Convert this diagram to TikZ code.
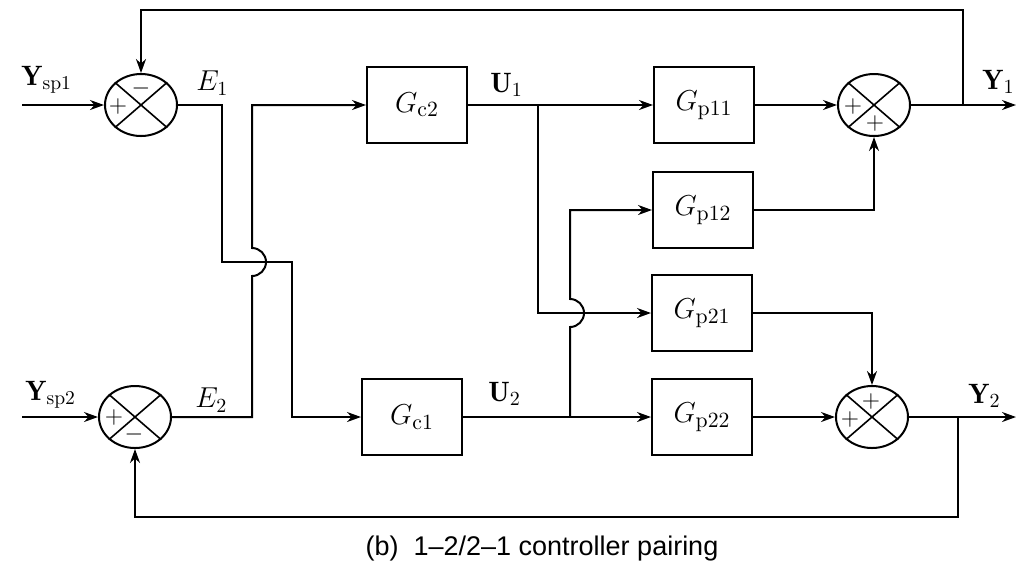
\documentclass[tikz,border=0pt]{standalone}
\usepackage{fontspec}
\newfontfamily\capfont{Liberation Sans}
\usetikzlibrary{shapes.geometric,arrows.meta}
\begin{document}
\begin{tikzpicture}[x=0.5pt,y=-0.5pt,
  line/.style={line width=1pt},
  arr/.style={line width=1pt,-{Stealth[length=7pt,width=5pt]}},
  blk/.style={draw,line width=1pt,minimum width=50pt,minimum height=38pt,inner sep=0pt,font=\fontsize{15.5}{17}\selectfont},
  sumj/.style={draw,ellipse,line width=1pt,minimum width=36pt,minimum height=31pt,inner sep=0pt},
  lbl/.style={font=\fontsize{14}{16}\selectfont,inner sep=0pt},
  sgn/.style={font=\fontsize{12}{14}\selectfont,inner sep=0pt}]
\useasboundingbox (0,0) rectangle (1018,570);
% summing junctions
\node[sumj] (s1) at (141,105) {};
\node[sumj] (s2) at (135,417) {};
\node[sumj] (s3) at (874,105) {};
\node[sumj] (s4) at (872,417) {};
\foreach \s in {s1,s2,s3,s4}{
  \draw[line width=0.8pt] (\s.north west) -- (\s.south east);
  \draw[line width=0.8pt] (\s.north east) -- (\s.south west);
}
\node[sgn] (m1) at (141,88) {$-$};
\node[sgn] (p1) at (118,106) {$+$};
\node[sgn] (p2) at (114,417) {$+$};
\node[sgn] (m2) at (134,434) {$-$};
\node[sgn] (p3) at (853,106) {$+$};
\node[sgn] (p4) at (875,123) {$+$};
\node[sgn] (p5) at (871,401) {$+$};
\node[sgn] (p6) at (850,419) {$+$};
% blocks
\node[blk] (gc2) at (417,105) {$G_{\mathrm{c2}}$};
\node[blk] (gc1) at (412,417) {$G_{\mathrm{c1}}$};
\node[blk] (gp11) at (704,105) {$G_{\mathrm{p11}}$};
\node[blk] (gp12) at (703,210) {$G_{\mathrm{p12}}$};
\node[blk] (gp21) at (702,313) {$G_{\mathrm{p21}}$};
\node[blk] (gp22) at (702,417) {$G_{\mathrm{p22}}$};
% labels
\node[lbl,anchor=west] (lysp1) at (21,80) {$\mathbf{Y}_{\mathrm{sp1}}$};
\node[lbl,anchor=west] (lysp2) at (25,395) {$\mathbf{Y}_{\mathrm{sp2}}$};
\node[lbl,anchor=west] (le1) at (196,83) {$E_1$};
\node[lbl,anchor=west] (le2) at (195,400) {$E_2$};
\node[lbl,anchor=west] (lu1) at (490,85) {$\mathbf{U}_1$};
\node[lbl,anchor=west] (lu2) at (488,394) {$\mathbf{U}_2$};
\node[lbl,anchor=west] (ly1) at (982,82) {$\mathbf{Y}_1$};
\node[lbl,anchor=west] (ly2) at (968,396) {$\mathbf{Y}_2$};
\node[font=\capfont\fontsize{13.5}{15}\selectfont] (cap) at (542,549) {(b)\ \ 1\textendash2/2\textendash1 controller pairing};
% coordinates
\coordinate (in1) at (22,105);
\coordinate (in2) at (22,417);
\coordinate (out1) at (1016,105);
\coordinate (out2) at (1016,417);
\coordinate (bu1) at (538,105);
\coordinate (bu2) at (570,417);
\coordinate (by1) at (963,105);
\coordinate (by2) at (958,417);
% inputs
\draw[arr] (in1) -- (s1.west);
\draw[arr] (in2) -- (s2.west);
% error paths
\draw[arr] (s1.east) -- (222,105) -- (222,262) -- (292,262) -- (292,417) -- (gc1.west);
\draw[arr] (s2.east) -- (252,417) -- (252,276) arc(90:-90:14) -- (252,105) -- (gc2.west);
% controller outputs
\draw[arr] (gc2.east) -- (gp11.west);
\draw[arr] (gc1.east) -- (gp22.west);
\draw[arr] (bu1) -- (538,313) -- (gp21.west);
\draw[arr] (bu2) -- (570,327) arc(90:-90:14) -- (570,210) -- (gp12.west);
% process outputs
\draw[arr] (gp11.east) -- (s3.west);
\draw[arr] (gp12.east) -| (s3.south);
\draw[arr] (gp21.east) -| (s4.north);
\draw[arr] (gp22.east) -- (s4.west);
% outputs
\draw[arr] (s3.east) -- (out1);
\draw[arr] (s4.east) -- (out2);
% feedback
\draw[arr] (by1) -- (963,10) -| (s1.north);
\draw[arr] (by2) -- (958,517) -| (s2.south);
\end{tikzpicture}
\end{document}
